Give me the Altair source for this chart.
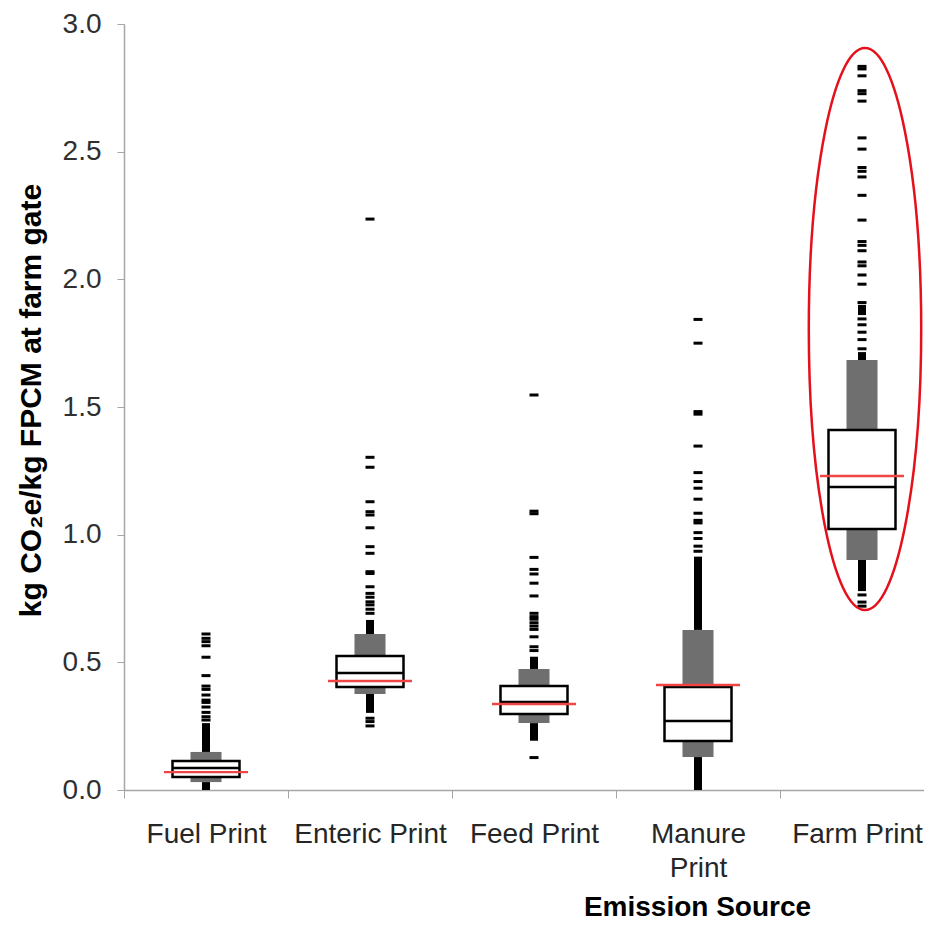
import altair as alt
import pandas as pd

categories = ["Fuel Print", "Enteric Print", "Feed Print", "Manure Print", "Farm Print"]

# grey band (outer range), white box (quartiles), median and mean
band_lo = [0.031, 0.376, 0.262, 0.129, 0.901]
band_hi = [0.149, 0.611, 0.474, 0.627, 1.684]
q1 = [0.051, 0.403, 0.298, 0.192, 1.022]
q3 = [0.114, 0.525, 0.407, 0.403, 1.410]
median = [0.086, 0.458, 0.345, 0.270, 1.187]
mean = [0.070, 0.427, 0.337, 0.411, 1.230]

# dense runs of outliers (drawn as solid black columns)
dense_cat = ["Fuel Print", "Fuel Print", "Enteric Print", "Enteric Print",
             "Feed Print", "Feed Print", "Manure Print", "Manure Print",
             "Farm Print", "Farm Print", "Farm Print"]
dense_lo = [0.149, 0.000, 0.611, 0.302, 0.474, 0.193, 0.627, 0.000, 1.684, 1.860, 0.779]
dense_hi = [0.262, 0.031, 0.666, 0.376, 0.522, 0.262, 0.914, 0.129, 1.715, 1.900, 0.901]

# individual outliers
fuel_out = [0.611, 0.594, 0.581, 0.565, 0.520, 0.448, 0.407, 0.394, 0.372,
            0.352, 0.343, 0.325, 0.304, 0.287, 0.274]
enteric_out = [2.236, 1.303, 1.264, 1.129, 1.090, 1.077, 1.027, 0.953, 0.927,
               0.855, 0.848, 0.796, 0.770, 0.755, 0.737, 0.725, 0.708, 0.692,
               0.281, 0.268, 0.251]
feed_out = [1.547, 1.092, 1.082, 0.911, 0.864, 0.846, 0.810, 0.760, 0.692,
            0.679, 0.669, 0.655, 0.642, 0.629, 0.600, 0.561, 0.546, 0.127]
manure_out = [1.843, 1.750, 1.482, 1.472, 1.347, 1.243, 1.208, 1.182, 1.139,
              1.084, 1.056, 1.046, 1.008, 0.985, 0.955, 0.935]
farm_out = [2.834, 2.824, 2.797, 2.739, 2.727, 2.698, 2.554, 2.510, 2.438,
            2.423, 2.401, 2.329, 2.232, 2.148, 2.133, 2.112, 2.068, 2.053,
            2.017, 1.981, 1.909, 1.845, 1.822, 1.793, 1.764, 1.728,
            0.764, 0.736, 0.720]

# highlighted group (ellipse centre)
ellipse_cat = ["Farm Print"]
ellipse_y = [1.805]

summary = pd.DataFrame({"cat": categories, "band_lo": band_lo, "band_hi": band_hi,
                        "q1": q1, "q3": q3, "median": median, "mean": mean})
dense = pd.DataFrame({"cat": dense_cat, "lo": dense_lo, "hi": dense_hi})
outl = pd.DataFrame({
    "cat": (["Fuel Print"] * len(fuel_out) + ["Enteric Print"] * len(enteric_out)
            + ["Feed Print"] * len(feed_out) + ["Manure Print"] * len(manure_out)
            + ["Farm Print"] * len(farm_out)),
    "v": fuel_out + enteric_out + feed_out + manure_out + farm_out,
})
ell = pd.DataFrame({"cat": ellipse_cat, "y": ellipse_y})

FONT = "Liberation Sans, Arial, sans-serif"

x_enc = alt.X(
    "cat:N", sort=categories,
    scale=alt.Scale(domain=categories, range=[0, 820], paddingInner=0, paddingOuter=0),
    axis=alt.Axis(
        title="Emission Source", tickBand="extent", tickSize=8, tickColor="#a6a6a6",
        domainColor="#a6a6a6", domainWidth=1.5, labelAngle=0, labelPadding=22,
        labelFontSize=28, labelColor="#262626", labelLimit=300, labelLineHeight=34,
        labelOffset={"condition": {"test": "datum.value == 'Farm Print'", "value": -5},
                     "value": 0},
        labelExpr="datum.value == 'Manure Print' ? ['Manure', 'Print'] : datum.value",
        titleFontSize=28, titleFontWeight="bold", titleColor="black",
        titleX=573, titleY=125, titleBaseline="alphabetic", titleAlign="center",
        grid=False,
    ),
)
y_axis = alt.Axis(
    title="kg CO\u2082e/kg FPCM at farm gate", values=[0, 0.5, 1.0, 1.5, 2.0, 2.5, 3.0],
    format=".1f", tickSize=7, tickColor="#a6a6a6", domainColor="#a6a6a6",
    domainWidth=1.5, labelFontSize=28, labelColor="#303030", labelPadding=16,
    titleFontSize=30, titleFontWeight="bold", titleColor="black", titlePadding=16,
    titleY=376, grid=False,
)
y_scale = alt.Scale(domain=[0, 3], nice=False)

dense_layer = alt.Chart(dense).mark_bar(width=8, color="black", opacity=1).encode(
    x=x_enc, y=alt.Y("lo:Q", scale=y_scale, axis=y_axis), y2="hi:Q")

out_layer = alt.Chart(outl).mark_tick(size=9, thickness=3, color="black", opacity=1).encode(
    x=x_enc, y=alt.Y("v:Q", scale=y_scale, axis=y_axis))

band_layer = alt.Chart(summary).mark_bar(width=31, color="#6f6f6f", opacity=1).encode(
    x=x_enc, y=alt.Y("band_lo:Q", scale=y_scale, axis=y_axis), y2="band_hi:Q")

box_layer = alt.Chart(summary).mark_bar(width=67, color="white", stroke="black",
                                        strokeWidth=2.5, opacity=1).encode(
    x=x_enc, y=alt.Y("q1:Q", scale=y_scale, axis=y_axis), y2="q3:Q")

med_layer = alt.Chart(summary).mark_tick(size=67, thickness=2.5, color="black",
                                         opacity=1).encode(
    x=x_enc, y=alt.Y("median:Q", scale=y_scale, axis=y_axis))

mean_layer = alt.Chart(summary).mark_tick(size=84, thickness=2.4, color="#f04545",
                                          opacity=1).encode(
    x=x_enc, y=alt.Y("mean:Q", scale=y_scale, axis=y_axis))

ellipse_path = ("M 0 -1 C 0.1105 -1 0.2 -0.5523 0.2 0 C 0.2 0.5523 0.1105 1 0 1 "
                "C -0.1105 1 -0.2 0.5523 -0.2 0 C -0.2 -0.5523 -0.1105 -1 0 -1 Z")
ell_layer = alt.Chart(ell).mark_point(shape=ellipse_path, size=315844, filled=False,
                                      stroke="#e4101c", strokeWidth=2.5, opacity=1,
                                      xOffset=3).encode(
    x=x_enc, y=alt.Y("y:Q", scale=y_scale, axis=y_axis))

chart = alt.layer(dense_layer, out_layer, band_layer, box_layer, med_layer,
                  mean_layer, ell_layer).properties(
    width=800, height=766,
    autosize=alt.AutoSizeParams(type="none"),
    padding={"left": 116, "top": 16, "right": 0, "bottom": 131},
    background="white",
).configure_view(stroke=None).configure_axis(labelFont=FONT, titleFont=FONT)

chart.save("out.html", embed_options={"renderer": "svg", "actions": False})
